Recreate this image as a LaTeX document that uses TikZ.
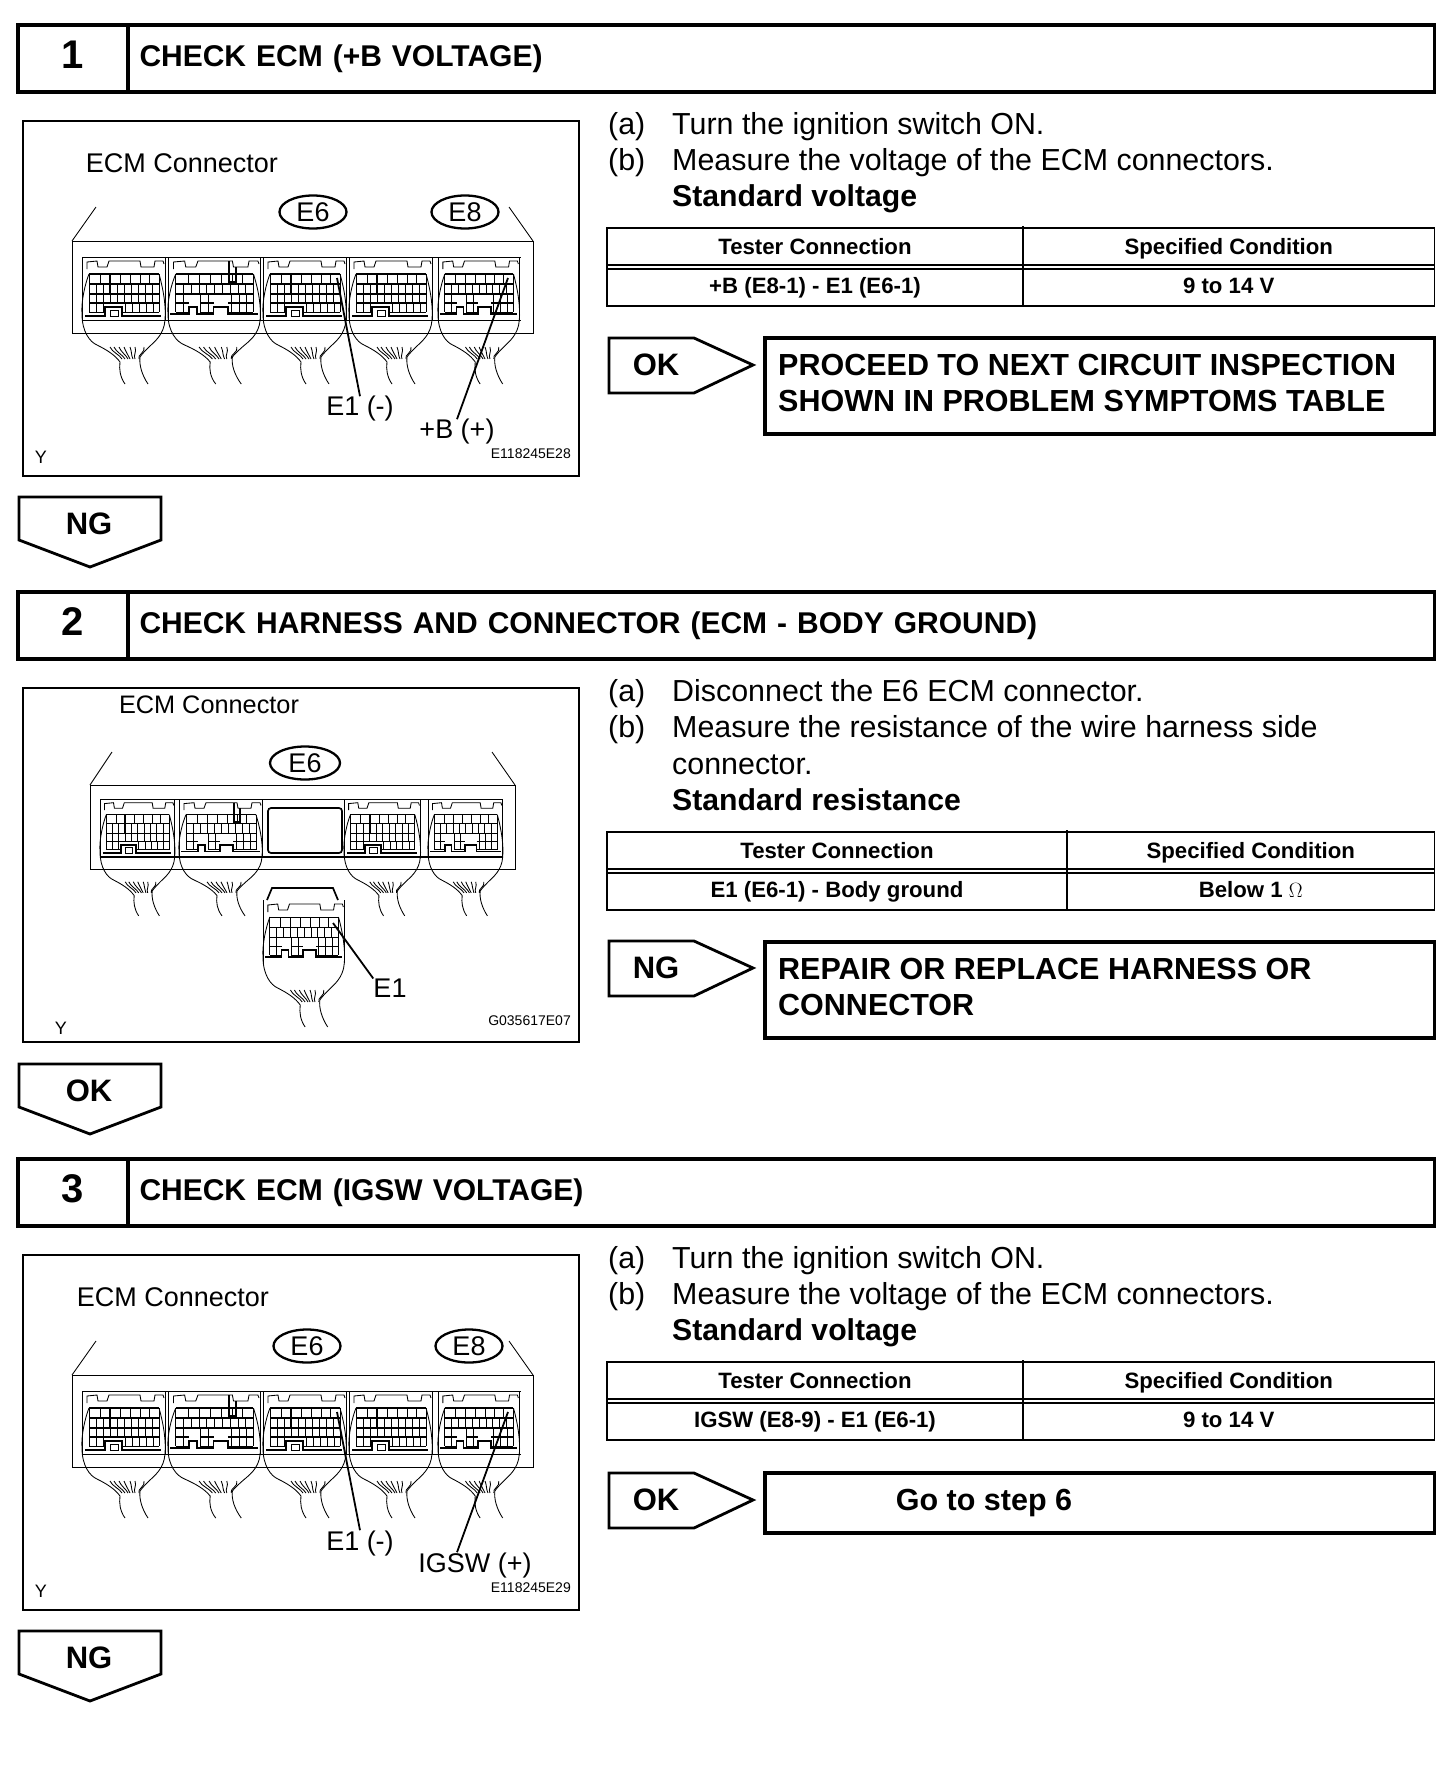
\documentclass[tikz,border=0pt]{standalone}
\usepackage{fontspec}
\setmainfont{Liberation Sans}
\usetikzlibrary{shapes.geometric,calc}

\newcommand{\fsz}[1]{\fontsize{#1bp}{#1bp}\selectfont}

% bottom of a plug: one keyway with a small square, or two keyways
\newcommand{\notchA}{
  \draw[rowline] (7,46) -- (77,46);
  \foreach \x in {7,14,...,77}
    \draw[wire] (\x,37) -- (\x,46);
  \foreach \x in {7,14,21,43,50,57,64,71,77}
    \draw[wire] (\x,46) -- (\x,55);
  \draw[wire] (7,55) -- (23,55) (40,55) -- (77,55);
  \draw[heavy] (3,59) -- (23,59) -- (23,50) -- (40,50) -- (40,59) -- (79,59);
  \draw[wire] (28,53) rectangle (36,59);
  \draw[heavy] (28,17) -- (28,37);
}
\newcommand{\notchB}{
  \draw[rowline] (7,46) -- (19,46) (29,46) -- (41,46) (54,46) -- (77,46);
  \foreach \x in {7,14,29,36,57,64,71,77}
    \draw[wire] (\x,37) -- (\x,55);
  \draw[wire] (7,55) -- (19,55) (29,55) -- (41,55) (54,55) -- (77,55);
  \draw[heavy] (2,57) -- (19,57) -- (19,50) -- (26,50) -- (26,57) -- (41,57) -- (41,50) -- (54,50) -- (54,57) -- (81,57);
}
\newcommand{\notchBslot}{
  \notchB
  \draw[heavy] (55,4) -- (55,25) -- (61,25) -- (61,10);
}
% plug seen from the front, px units, origin at its top left
\newcommand{\plug}[4]{
  \begin{scope}[shift={(#1,#2)},#3]
    \draw[wire] (0,63) -- (0,0) (83,0) -- (83,63);
    \draw[wire] (5,12) -- (5,5) -- (15,4) -- (16,10) -- (25,10) -- (27,4) -- (58,4) -- (59,10) -- (72,10) -- (73,4) -- (81,4) -- (82,7);
    \draw[rowline] (7,17) -- (77,17);
    \foreach \x in {7,18,28,38,48,58,67,77}
      \draw[wire] (\x,17) -- (\x,27);
    \foreach \y in {27,37}
      \draw[rowline] (7,\y) -- (77,\y);
    \foreach \x in {7,14,...,77}
      \draw[wire] (\x,27) -- (\x,37);
    #4
    \draw[wire] (7,17) .. controls (3,27) and (-1,45) .. (0,57) .. controls (0,75) and (8,85) .. (15,88) .. controls (25,93) and (33,98) .. (38,105) .. controls (37,112) and (38,120) .. (43,127);
    \draw[wire] (77,17) .. controls (82,35) and (84,50) .. (83,63) .. controls (82,78) and (72,85) .. (67,90) .. controls (63,94) and (60,97) .. (58,100) .. controls (57,108) and (60,118) .. (66,127);
    \foreach \a/\b in {28/40,32/43,37/46,42/48,48/51,53/53,62/57}
      \draw[wire] (\a,90) .. controls (\a+2,95) and (\b-2,98) .. (\b,102);
  \end{scope}
}
% pentagon tags
\newcommand{\rarrow}[4]{
  \draw[tag] (#2,#3) -- (#2+85,#3) -- (#2+144,#3+27) -- (#2+85,#3+55) -- (#2,#3+55) -- cycle;
  \node[tagtxt] (#1) at (#2+47,#3+27) {#4};
}
\newcommand{\darrow}[4]{
  \draw[tag] (#2,#3) -- (#2+142,#3) -- (#2+142,#3+43) -- (#2+71,#3+70) -- (#2,#3+43) -- cycle;
  \node[tagtxt] (#1) at (#2+70,#3+27) {#4};
}
% two row table
\newcommand{\spectable}[5]{
  \draw[rule] (607,#1) rectangle (1434.5,#1+78);
  \draw[thin2] (#2,#1-2) -- (#2,#1+78);
  \draw[thin2] (607,#1+37) -- (1434.5,#1+37);
  \draw[rule] (607,#1+41) -- (1434.5,#1+41);
  \node[celltxt] (hl#5) at ($(607,#1+26)!0.5!(#2,#1+26)$) {Tester Connection};
  \node[celltxt] (hr#5) at ($(#2,#1+26)!0.5!(1434.5,#1+26)$) {Specified Condition};
  \node[celltxt] (cl#5) at ($(607,#1+65)!0.5!(#2,#1+65)$) {#3};
  \node[celltxt] (cr#5) at ($(#2,#1+65)!0.5!(1434.5,#1+65)$) {#4};
}

\begin{document}
\begin{tikzpicture}[
  x=1bp, y=-1bp,
  wire/.style={line width=0.85bp, black},
  heavy/.style={line width=1.7bp, black},
  rowline/.style={heavy},
  thin2/.style={line width=1.2bp, black},
  rule/.style={line width=1.8bp, black},
  frame/.style={line width=2bp, black},
  tag/.style={line width=2.8bp, black, line join=miter},
  tagtxt/.style={font=\fsz{31}\bfseries, inner sep=0pt},
  celltxt/.style={font=\fsz{22.2}\bfseries, inner sep=0pt, anchor=base},
  hdrnum/.style={draw, line width=3.5bp, outer sep=0pt, anchor=north west, minimum width=110bp, minimum height=67bp, inner sep=0pt, text depth=7bp, font=\fsz{40}\bfseries},
  hdrtitle/.style={draw, line width=3.5bp, outer sep=0pt, anchor=north west, minimum width=1306.5bp, minimum height=67bp, inner sep=0pt, inner xsep=11.5bp, text width=1283.5bp, text depth=5.3bp, font=\fsz{30}\bfseries, align=left},
  stepl/.style={anchor=base west, inner sep=0pt, font=\fsz{30.4}},
  stepb/.style={anchor=base west, inner sep=0pt, font=\fsz{30.2}\bfseries},
  resbox/.style={draw, line width=3.5bp, outer sep=0pt, anchor=north west, minimum width=669.5bp},
  restxt/.style={anchor=north west, inner sep=0pt, align=left, font=\fontsize{30.5bp}{36bp}\selectfont\bfseries},
  figtxt/.style={inner sep=0pt, font=\fsz{27}},
  figsm/.style={inner sep=0pt, font=\fsz{14}},
  figy/.style={inner sep=0pt, font=\fsz{18}},
  tagoval/.style={draw, ellipse, line width=2.3bp, minimum width=67bp, minimum height=33bp, inner sep=0pt, font=\fsz{27}},
  leader/.style={line width=1.8bp, black}
]

\useasboundingbox (0,0) rectangle (1456,1776);

\def\secB{567}
\def\secC{1134}

% section headers
\node[hdrnum] (numA) at (18,25) {1};
\node[hdrtitle] (titleA) at (128,25) {CHECK ECM (+B VOLTAGE)};
\node[hdrnum] (numB) at (18,25+\secB) {2};
\node[hdrtitle] (titleB) at (128,25+\secB) {CHECK HARNESS AND CONNECTOR (ECM - BODY GROUND)};
\node[hdrnum] (numC) at (18,25+\secC) {3};
\node[hdrtitle] (titleC) at (128,25+\secC) {CHECK ECM (IGSW VOLTAGE)};

% figures of step 1 and step 3 share their unit
\foreach \oy/\nm in {0/A,\secC/C} {
  \draw[frame] (23,121+\oy) rectangle (579,476+\oy);
  \draw[wire] (72,241+\oy) rectangle (533,333+\oy);
  \draw[wire] (72,241+\oy) -- (96,207+\oy);
  \draw[wire] (533,241+\oy) -- (509,207+\oy);
  \draw[wire] (82,257+\oy) -- (521,257+\oy);
  \draw[wire] (82,320+\oy) -- (521,320+\oy);
  \plug{82}{257+\oy}{}{\notchA}
  \plug{168}{257+\oy}{xscale=1.11}{\notchBslot}
  \plug{263}{257+\oy}{}{\notchA}
  \plug{349}{257+\oy}{}{\notchA}
  \plug{438}{257+\oy}{xscale=0.98}{\notchB}
  \coordinate (pinE1\nm) at (337,278+\oy);
  \coordinate (pinB\nm) at (508,278+\oy);
  \node[figtxt] (lblE1\nm) at (360,409+\oy) {E1 (-)};
  \node[figy] (lblY\nm) at (41,457+\oy) {Y};
  \draw[leader] (pinE1\nm) -- (lblE1\nm.north);
}
\node[figtxt] (ecmA) at (182,163) {ECM Connector};
\node[tagoval] (ovE6A) at (313,212) {E6};
\node[tagoval] (ovE8A) at (465,212) {E8};
\node[figtxt] (lblBA) at (457,432) {+B (+)};
\node[figsm, anchor=east] (codeA) at (571,454) {E118245E28};
\draw[leader] (pinBA) -- (lblBA.north);
\node[figtxt] (ecmC) at (173,\secC+163) {ECM Connector};
\node[tagoval] (ovE6C) at (307,\secC+212) {E6};
\node[tagoval] (ovE8C) at (469,\secC+212) {E8};
\node[figtxt] (lblBC) at (475,\secC+431) {IGSW (+)};
\node[figsm, anchor=east] (codeC) at (571,\secC+454) {E118245E29};
\draw[leader] (pinBC) -- ([xshift=-18bp]lblBC.north);

% figure of step 2
\draw[frame] (23,688) rectangle (579,1042);
\draw[wire] (90,785) rectangle (515,869);
\draw[wire] (90,785) -- (112,752);
\draw[wire] (515,785) -- (492,752);
\draw[wire] (100,799) -- (503,799);
\draw[heavy] (100,857) -- (503,857);
\draw[heavy, rounded corners=3bp] (268,808) rectangle (342,853);
\plug{100}{799}{xscale=0.9,yscale=0.92,rowline/.style={wire}}{\notchA}
\plug{179}{799}{yscale=0.92,rowline/.style={wire}}{\notchBslot}
\plug{344}{799}{xscale=0.92,yscale=0.92,rowline/.style={wire}}{\notchA}
\plug{428}{799}{xscale=0.9,yscale=0.92,rowline/.style={wire}}{\notchB}
% loose plug with its hood
\draw[heavy] (267,900) -- (272,888) -- (333,888) -- (338,900);
\plug{263}{900}{xscale=0.98,rowline/.style={wire}}{\notchB}
\coordinate (pinEB) at (333,923);
\node[figtxt] (ecmB) at (209,705) {\fsz{25.3}ECM Connector};
\node[tagoval, minimum width=70bp] (ovE6B) at (305,763) {E6};
\node[figtxt] (lblEB) at (390,988) {E1};
\node[figy] (lblYB) at (61,1028) {Y};
\node[figsm, anchor=east] (codeB) at (571,1021) {G035617E07};
\draw[leader] (pinEB) -- (lblEB.north west);

% step texts
\foreach \oy/\nm in {0/A,\secC/C} {
  \node[stepl] (aL\nm) at (608,134+\oy) {(a)};
  \node[stepl] (aT\nm) at (672,134+\oy) {Turn the ignition switch ON.};
  \node[stepl] (bL\nm) at (608,170+\oy) {(b)};
  \node[stepl] (bT\nm) at (672,170+\oy) {Measure the voltage of the ECM connectors.};
  \node[stepb] (std\nm) at (672,206+\oy) {Standard voltage};
}
\node[stepl] (aLB) at (608,701) {(a)};
\node[stepl] (aTB) at (672,701) {Disconnect the E6 ECM connector.};
\node[stepl] (bLB) at (608,737) {(b)};
\node[stepl] (bTB) at (672,737) {Measure the resistance of the wire harness side};
\node[stepl] (bUB) at (672,774) {connector.};
\node[stepb] (stdB) at (672,810) {Standard resistance};

% tables
\spectable{228}{1023}{+B (E8-1) - E1 (E6-1)}{9 to 14 V}{A}
\spectable{832}{1067}{E1 (E6-1) - Body ground}{Below 1 $\Omega$}{B}
\spectable{1362}{1023}{IGSW (E8-9) - E1 (E6-1)}{9 to 14 V}{C}

% outcome tags and boxes
\rarrow{okA}{609}{338}{OK}
\node[resbox, minimum height=96bp] (resA) at (765,338) {};
\node[restxt] (txtA) at (778,354) {PROCEED TO NEXT CIRCUIT INSPECTION\\SHOWN IN PROBLEM SYMPTOMS TABLE};
\darrow{ngA}{19}{497}{NG}
\rarrow{ngB}{609}{941}{NG}
\node[resbox, minimum height=96bp] (resB) at (765,942) {};
\node[restxt] (txtB) at (778,958) {REPAIR OR REPLACE HARNESS OR\\CONNECTOR};
\darrow{okB}{19}{1064}{OK}
\rarrow{okC}{609}{1473}{OK}
\node[resbox, minimum height=60bp] (resC) at (765,1473) {};
\node[restxt, anchor=center] (txtC) at (984,1503) {Go to step 6};
\darrow{ngC}{19}{1631}{NG}

\end{tikzpicture}
\end{document}
